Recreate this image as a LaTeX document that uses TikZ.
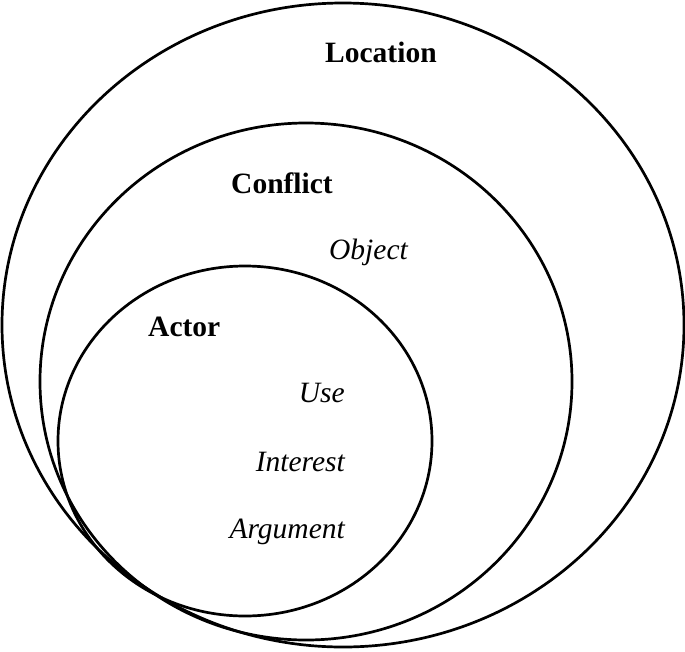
\documentclass[tikz,border=0pt]{standalone}
\usepackage{fontspec}
\setmainfont{Liberation Serif}
\begin{document}
\begin{tikzpicture}[x=1pt,y=-1pt,
  ring/.style={line width=2.7pt},
  lbl/.style={inner sep=0pt,font=\fontsize{29.5}{35}\selectfont\bfseries,anchor=base west},
  itm/.style={inner sep=0pt,font=\fontsize{29.5}{35}\selectfont\itshape,anchor=base east}]
\useasboundingbox (0,0) rectangle (685,651);
\draw[ring] (343,325) ellipse [x radius=341, y radius=322];
\draw[ring] (306,381.5) ellipse [x radius=266, y radius=258.5];
\draw[ring] (245,441) ellipse [x radius=187, y radius=175];
\node[lbl] (location) at (325,62) {Location};
\node[lbl] (conflict) at (231,193) {Conflict};
\node[itm] (object) at (408,259) {Object};
\node[lbl] (actor) at (148,336) {Actor};
\node[itm] (use) at (345,402) {Use};
\node[itm] (interest) at (345,471) {Interest};
\node[itm] (argument) at (345,538) {Argument};
\end{tikzpicture}
\end{document}
